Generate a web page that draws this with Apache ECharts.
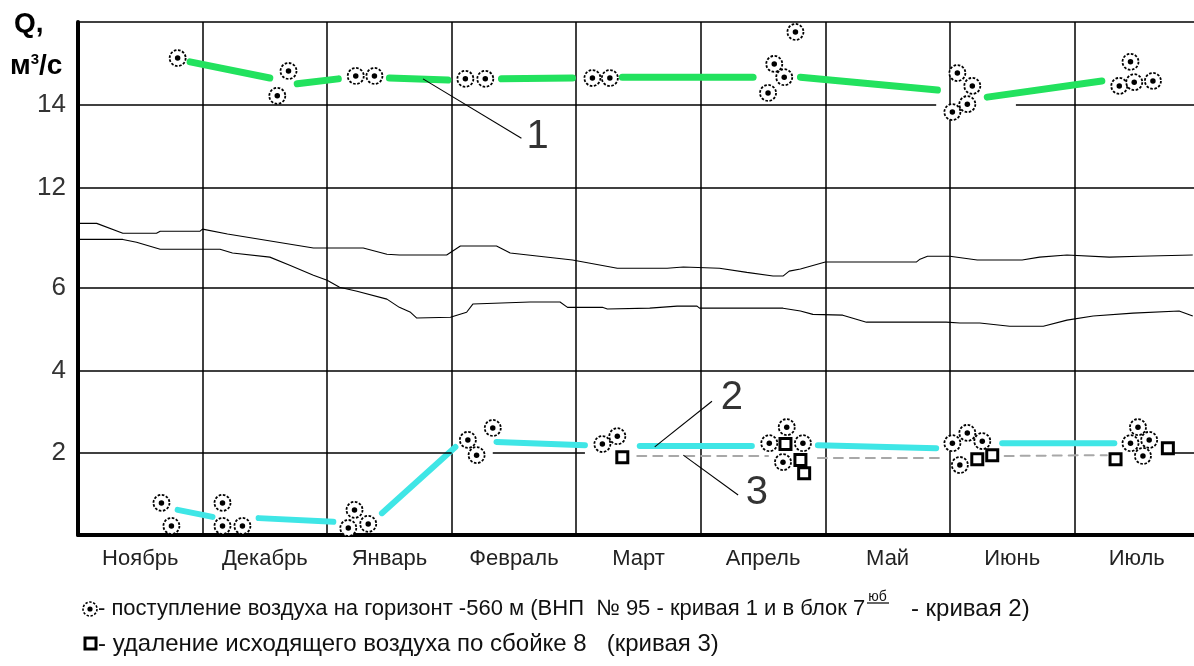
<!DOCTYPE html>
<html><head><meta charset="utf-8">
<script src="https://cdn.jsdelivr.net/npm/echarts@6/dist/echarts.min.js"></script>
<style>html,body{margin:0;padding:0;background:#fff}#c{width:1194px;height:666px}</style>
</head><body><div id="c"></div>
<script>
// ---- categories ----
const months = ['Ноябрь','Декабрь','Январь','Февраль','Март','Апрель','Май','Июнь','Июль'];
// x in month units (0 = start of November), y in m3/s
// ---- curve 1 (upper, green) ----
const curve1Segments = [
  [[0.90,15.04],[1.54,14.65]],
  [[1.76,14.51],[2.09,14.63]],
  [[2.50,14.65],[2.97,14.60]],
  [[3.40,14.63],[3.97,14.65]],
  [[4.37,14.67],[5.42,14.67]],
  [[5.80,14.67],[6.90,14.36]],
  [[7.30,14.19],[8.22,14.58]]
];
const curve1Points = [
  [0.80,15.13],[1.69,14.82],[1.60,14.22],[2.23,14.70],[2.38,14.70],
  [3.11,14.63],[3.27,14.63],[4.13,14.65],[4.27,14.65],
  [5.76,15.76],[5.59,14.99],[5.67,14.67],[5.54,14.29],
  [7.06,14.77],[7.18,14.46],[7.14,14.02],[7.02,13.83],
  [8.45,15.04],[8.36,14.46],[8.48,14.55],[8.63,14.58]
];
// ---- curve 2 (lower, cyan) ----
const curve2Segments = [
  [[0.80,0.61],[1.08,0.44]],
  [[1.45,0.41],[2.05,0.32]],
  [[2.44,0.53],[3.03,2.14]],
  [[3.36,2.26],[4.07,2.18]],
  [[4.51,2.16],[5.41,2.16]],
  [[5.94,2.18],[6.89,2.11]],
  [[7.42,2.23],[8.32,2.23]]
];
const curve2Points = [
  [0.67,0.78],[0.75,0.22],
  [1.16,0.78],[1.16,0.22],[1.32,0.22],
  [2.22,0.61],[2.17,0.17],[2.33,0.27],
  [3.13,2.31],[3.20,1.94],[3.33,2.60],
  [4.21,2.21],[4.33,2.40],
  [5.55,2.23],[5.69,2.62],[5.82,2.23],[5.66,1.77],
  [7.02,2.23],[7.14,2.48],[7.26,2.28],[7.08,1.70],
  [8.51,2.62],[8.45,2.23],[8.60,2.31],[8.55,1.92]
];
// ---- curve 3 (dashed grey) and squares ----
const curve3Segments = [
  [[4.49,1.92],[5.54,1.92]],
  [[5.94,1.87],[6.96,1.87]],
  [[7.44,1.92],[8.26,1.94]]
];
const squarePoints = [
  [4.37,1.89],[5.68,2.21],[5.80,1.82],[5.83,1.50],
  [7.22,1.84],[7.34,1.94],[8.33,1.84],[8.75,2.11]
];
// ---- thin black background curves ----
const blackCurveA = [
  [-0.05,7.57],[0.15,7.57],[0.36,7.33],[0.63,7.33],[0.66,7.38],[0.98,7.38],[1.00,7.43],
  [1.20,7.31],[1.89,6.97],[2.29,6.97],[2.48,6.82],[2.58,6.80],[2.96,6.80],[3.07,7.02],
  [3.36,7.02],[3.47,6.85],[3.97,6.68],[4.33,6.48],[4.73,6.48],[4.86,6.51],[5.15,6.48],
  [5.37,6.38],[5.58,6.29],[5.66,6.29],[5.71,6.41],[5.80,6.46],[6.00,6.63],[6.73,6.63],
  [6.76,6.70],[6.82,6.77],[7.00,6.77],[7.22,6.68],[7.58,6.68],[7.72,6.75],[7.94,6.80],
  [8.28,6.75],[8.52,6.77],[8.95,6.80]
];
const blackCurveB = [
  [-0.12,7.18],[0.36,7.18],[0.47,7.11],[0.66,6.94],[1.14,6.94],[1.24,6.85],[1.54,6.75],
  [1.70,6.55],[1.89,6.31],[2.00,6.19],[2.10,6.02],[2.24,5.92],[2.48,5.73],[2.58,5.53],
  [2.67,5.41],[2.72,5.27],[2.99,5.29],[3.12,5.41],[3.17,5.61],[3.63,5.66],[3.87,5.66],
  [3.93,5.53],[4.21,5.53],[4.25,5.49],[4.59,5.51],[4.81,5.56],[4.97,5.56],[4.99,5.51],
  [5.66,5.51],[5.80,5.44],[5.90,5.36],[6.14,5.34],[6.33,5.17],[6.97,5.17],[7.08,5.15],
  [7.24,5.15],[7.48,5.07],[7.75,5.07],[7.94,5.22],[8.15,5.32],[8.47,5.39],[8.84,5.44],
  [8.95,5.32]
];
// ---- horizontal grid lines (full values and partial spans where the original is erased) ----
const topFullLines = [12, 16];
const topPartialLine = 14, topPartialSpans = [[0, 6.89], [7.53, 9]];
const bottomFullLines = [4, 6];
const bottomPartialLine = 2, bottomPartialSpans = [[0, 3.0], [3.33, 4.07], [8.78, 9]];
// ---- annotation leaders and labels ----
const leader1 = [[2.77,14.63],[3.56,13.20]];
const leader2 = [[4.63,2.14],[5.09,3.25]];
const leader3 = [[4.86,1.94],[5.30,0.97]];
const labelTop = [{name:'1', value:[3.69,13.23]}];
const labelBottom = [{name:'2', value:[5.25,3.33]},{name:'3', value:[5.45,1.02]}];

const FONT = '"Liberation Sans", Arial, sans-serif';
const GREEN = '#22e25e', CYAN = '#3fe6e6';

function segSeries(segs, xi, color, width, type) {
  return segs.map(s => ({
    type:'line', xAxisIndex:xi, yAxisIndex:xi, data:s, symbol:'none', silent:true, z:3,
    lineStyle:{color:color, width:width, type:type||'solid', cap:'round'}
  }));
}
function ringSeries(pts, xi) {
  return [
    {type:'scatter', xAxisIndex:xi, yAxisIndex:xi, data:pts, symbol:'circle', symbolSize:16, z:5,
     itemStyle:{color:'#fff', borderColor:'#000', borderWidth:1.8, borderType:[2.6,1.6], opacity:1}},
    {type:'scatter', xAxisIndex:xi, yAxisIndex:xi, data:pts, symbol:'circle', symbolSize:5.5, z:6,
     itemStyle:{color:'#000', opacity:1}}
  ];
}
function thinLine(data, xi, extra) {
  return Object.assign({type:'line', xAxisIndex:xi, yAxisIndex:xi, data:data, symbol:'none', clip:false, z:2,
    lineStyle:{color:'#000', width:1.1}}, extra||{});
}
function labelSeries(data, xi) {
  return {type:'scatter', xAxisIndex:xi, yAxisIndex:xi, data:data, symbolSize:0, z:7,
    label:{show:true, position:'inside', formatter:p=>p.name, fontSize:40, fontFamily:FONT, color:'#000'}};
}
function gridLineSeries(xi, full, partialY, spans) {
  const d = full.map(v => ({yAxis:v}));
  spans.forEach(s => d.push([{coord:[s[0], partialY]}, {coord:[s[1], partialY]}]));
  return {type:'line', xAxisIndex:xi, yAxisIndex:xi, data:[], z:1, silent:true,
    markLine:{silent:true, symbol:['none','none'], animation:false, label:{show:false},
      lineStyle:{color:'#000', width:1.5, type:'solid'}, emphasis:{disabled:true}, data:d}};
}

const valueX = i => ({gridIndex:i, type:'value', min:0, max:9, show:false});
const yLabel = {fontSize:26, color:'#333', fontFamily:FONT, margin:12};
const gridBase = {left:78, width:1121, outerBoundsMode:'none', containLabel:false};

const chart = echarts.init(document.getElementById('c'), null, {renderer:'canvas'});
chart.setOption({
  animation:false,
  backgroundColor:'#fff',
  grid:[
    Object.assign({top:22, bottom:131}, gridBase),
    Object.assign({top:22, height:166}, gridBase),
    Object.assign({top:288, bottom:131}, gridBase)
  ],
  xAxis:[
    {gridIndex:0, type:'category', data:months, boundaryGap:true,
     axisLine:{lineStyle:{color:'#000', width:4}}, axisTick:{show:false},
     axisLabel:{interval:0, fontSize:22, color:'#222', fontFamily:FONT, margin:13},
     splitLine:{show:true, interval:0, lineStyle:{color:'#000', width:1.5}}},
    valueX(1), valueX(2)
  ],
  yAxis:[
    {gridIndex:0, type:'value', min:0, max:1, axisLine:{show:true, lineStyle:{color:'#000', width:4}},
     axisLabel:{show:false}, axisTick:{show:false}, splitLine:{show:false}},
    {gridIndex:1, type:'value', min:12, max:16, interval:2, axisLine:{show:false}, axisTick:{show:false},
     axisLabel:Object.assign({showMaxLabel:false}, yLabel), splitLine:{show:false}},
    {gridIndex:2, type:'value', min:0, max:6, interval:2, axisLine:{show:false}, axisTick:{show:false},
     axisLabel:Object.assign({showMinLabel:false}, yLabel), splitLine:{show:false}}
  ],
  series:[
    gridLineSeries(1, topFullLines, topPartialLine, topPartialSpans),
    gridLineSeries(2, bottomFullLines, bottomPartialLine, bottomPartialSpans),
    thinLine(blackCurveA, 2),
    thinLine(blackCurveB, 2),
    ...segSeries(curve1Segments, 1, GREEN, 7),
    ...segSeries(curve2Segments, 2, CYAN, 6),
    ...segSeries(curve3Segments, 2, '#a8a8a8', 2, [9,7]),
    ...ringSeries(curve1Points, 1),
    ...ringSeries(curve2Points, 2),
    {type:'scatter', xAxisIndex:2, yAxisIndex:2, data:squarePoints, symbol:'rect', symbolSize:11, z:6,
     itemStyle:{color:'#fff', borderColor:'#000', borderWidth:3, opacity:1}},
    thinLine(leader1, 1, {z:4}),
    thinLine(leader2, 2, {z:4}),
    thinLine(leader3, 2, {z:4}),
    labelSeries(labelTop, 1),
    labelSeries(labelBottom, 2)
  ],
  graphic:[
    {type:'text', left:14, top:10, style:{text:'Q,', font:'bold 28px '+FONT, fill:'#000'}},
    {type:'text', left:10, top:52, style:{text:'м{s|3}/с', font:'bold 28px '+FONT, fill:'#000',
      rich:{s:{fontSize:15, fontWeight:'bold', fontFamily:FONT, verticalAlign:'top', padding:[0,0,14,0]}}}},
    // legend markers
    {type:'circle', shape:{cx:90, cy:609, r:7}, style:{fill:'#fff', stroke:'#000', lineWidth:1.6, lineDash:[2.4,1.6]}},
    {type:'circle', shape:{cx:90, cy:609, r:2.6}, style:{fill:'#000'}},
    {type:'rect', shape:{x:85, y:638, width:11, height:11}, style:{fill:'#fff', stroke:'#000', lineWidth:3}},
    {type:'text', x:98, y:609, style:{text:'- поступление воздуха на горизонт -560 м (ВНП  № 95 - кривая 1 и в блок 7{s|юб}  {e|- кривая 2)}',
      font:'22px '+FONT, fill:'#111', verticalAlign:'middle',
      rich:{s:{fontSize:14, fontFamily:FONT, verticalAlign:'top', padding:[0,12,24,3]},
            e:{fontSize:24, fontFamily:FONT}}}},
    {type:'line', shape:{x1:867, y1:603, x2:889, y2:603}, style:{stroke:'#111', lineWidth:1.3}},
    {type:'text', x:98, y:644, style:{text:'- удаление исходящего воздуха по сбойке 8   (кривая 3)',
      font:'24px '+FONT, fill:'#111', verticalAlign:'middle'}}
  ]
});
</script></body></html>
